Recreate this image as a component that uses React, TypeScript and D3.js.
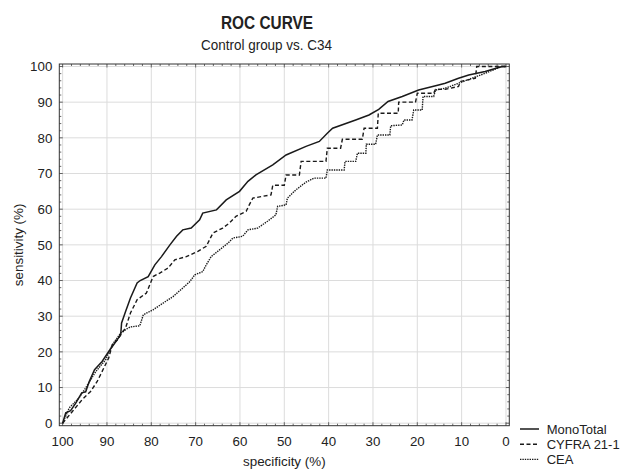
import React from "react";
import * as d3 from "d3";

// [specificity %, sensitivity %]
const monoTotal: [number, number][] = [
  [100, 0], [99.3, 2.9], [98.2, 3.5], [97.0, 5.7], [95.7, 8.5], [94.8, 8.8], [94.0, 11.7], [92.8, 15.0],
  [91.1, 17.3], [89.6, 20.1], [87.7, 23.4], [86.9, 24.8], [86.7, 28.1], [85.8, 31.3], [84.7, 35.1],
  [83.2, 39.3], [82.5, 40.0], [80.7, 41.1], [79.2, 44.4], [77.7, 46.7], [75.8, 50.0], [74.3, 52.4],
  [72.9, 54.2], [71.0, 54.7], [69.1, 57.0], [68.4, 58.9], [65.3, 59.8], [63.1, 62.6], [60.1, 65.0],
  [58.2, 67.8], [56.4, 69.6], [52.6, 72.4], [49.6, 75.2], [45.1, 77.6], [42.1, 79.0], [40.3, 81.3],
  [39.1, 82.7], [33.9, 85.0], [30.9, 86.4], [28.7, 88.0], [26.6, 90.2], [23.4, 91.6], [19.7, 93.4],
  [15.2, 94.8], [13.7, 95.3], [10.7, 96.7], [8.4, 97.6], [4.7, 98.6], [0.9, 100], [0, 100],
];

const cyfra: [number, number][] = [
  [100, 0], [97.8, 3.3], [95.6, 6.6], [93.7, 8.9], [92.2, 11.7], [90.7, 15.5], [89.6, 18.3], [88.8, 22.0],
  [87.5, 23.5], [86.9, 24.8], [85.8, 26.7], [84.7, 30.9], [83.2, 34.6], [81.1, 36.5], [79.6, 41.1],
  [78.1, 42.1], [76.2, 43.5], [74.7, 45.8], [72.1, 46.7], [69.5, 48.2], [67.6, 49.6], [66.1, 53.3],
  [63.9, 54.7], [62.4, 56.1], [60.9, 58.0], [58.6, 59.4], [57.9, 61.2], [57.1, 63.1], [54.9, 63.6],
  [53.0, 64.0], [52.6, 66.7], [50.0, 66.7], [49.6, 69.6], [46.6, 69.6], [46.2, 73.4], [40.6, 73.4],
  [40.3, 77.1], [37.3, 77.1], [36.9, 79.6], [32.4, 79.6], [32.0, 82.7], [29.0, 82.7], [28.8, 86.9],
  [24.3, 86.9], [24.2, 90.0], [20.4, 90.0], [20.0, 92.5], [16.3, 92.5], [15.9, 93.6], [13.7, 93.6],
  [10.7, 94.4], [10.3, 95.8], [6.9, 96.7], [6.6, 100], [0, 100],
];

const cea: [number, number][] = [
  [100, 0], [98.5, 4.3], [96.3, 7.1], [94.8, 9.9], [92.5, 14.5], [90.3, 17.8], [88.8, 22.0], [86.9, 25.3],
  [85.6, 26.4], [84.7, 27.0], [82.6, 27.3], [81.8, 30.4], [79.6, 31.8], [77.3, 33.7], [75.1, 35.5],
  [72.9, 37.9], [71.3, 39.7], [70.2, 41.6], [68.4, 42.5], [67.6, 44.4], [66.5, 46.7], [64.6, 48.6],
  [62.7, 50.5], [61.6, 51.9], [59.4, 52.4], [58.2, 54.2], [56.0, 54.7], [53.8, 56.6], [51.9, 58.4],
  [51.5, 60.8], [49.6, 61.2], [49.3, 63.1], [47.4, 65.4], [45.1, 67.6], [43.3, 68.7], [40.6, 68.7],
  [40.3, 71.0], [36.5, 71.0], [36.3, 73.4], [33.9, 73.4], [33.5, 75.7], [31.6, 75.7], [31.5, 78.2],
  [29.4, 78.2], [29.0, 80.8], [26.2, 80.8], [26.0, 83.4], [23.4, 83.6], [23.0, 85.0], [21.2, 85.0],
  [20.8, 87.8], [18.9, 87.8], [18.7, 91.6], [16.3, 91.6], [15.9, 93.4], [13.7, 93.9], [10.7, 95.3],
  [7.7, 96.7], [4.7, 98.1], [1.0, 100], [0, 100],
];

const seriesNames = ["MonoTotal", "CYFRA 21-1", "CEA"];
const majorTicks = [0, 10, 20, 30, 40, 50, 60, 70, 80, 90, 100];
const title = "ROC CURVE";
const subtitle = "Control group vs. C34";
const xLabel = "specificity (%)";
const yLabel = "sensitivity (%)";

const FONT = "'Liberation Sans', Arial, Helvetica, sans-serif";
const INK = "#222";

export default function App() {
  const left = 59.3, right = 509.3, top = 64, bottom = 425.7;
  const x = d3.scaleLinear().domain([100.75, -0.75]).range([left, right]);
  const y = d3.scaleLinear().domain([-0.7, 100.7]).range([bottom, top]);
  const line = d3.line<[number, number]>().x((d) => x(d[0])).y((d) => y(d[1]));
  const minor = d3.range(0, 101, 2);

  const series = [
    { name: seriesNames[0], data: monoTotal, dash: undefined, w: 1.5 },
    { name: seriesNames[1], data: cyfra, dash: "4,2.5", w: 1.4 },
    { name: seriesNames[2], data: cea, dash: "1.4,1", w: 1.4 },
  ];

  return (
    <svg width={620} height={469} style={{ position: "absolute", left: 0, top: 0, background: "#fff" }} fontFamily={FONT}>
      <rect x={0} y={0} width={620} height={469} fill="#fff" />
      <text x={267} y={29.3} textAnchor="middle" fontSize={17.5} fontWeight="bold" fill={INK} textLength={92} lengthAdjust="spacingAndGlyphs">{title}</text>
      <text x={266.5} y={49.5} textAnchor="middle" fontSize={14.3} fill={INK} textLength={131} lengthAdjust="spacingAndGlyphs">{subtitle}</text>

      {/* grid */}
      {majorTicks.map((t) => (
        <g key={"g" + t}>
          <line x1={x(t)} x2={x(t)} y1={top} y2={bottom} stroke="#dcdcdc" strokeWidth={1} />
          <line x1={left} x2={right} y1={y(t)} y2={y(t)} stroke="#dcdcdc" strokeWidth={1} />
        </g>
      ))}

      {/* ticks (inside, all four sides) */}
      {minor.map((t) => {
        const len = t % 10 === 0 ? 3.5 : 2;
        return (
          <g key={"t" + t} stroke="#444" strokeWidth={0.8}>
            <line x1={x(t)} x2={x(t)} y1={bottom} y2={bottom - len} />
            <line x1={x(t)} x2={x(t)} y1={top} y2={top + len} />
            <line x1={left} x2={left + len} y1={y(t)} y2={y(t)} />
            <line x1={right} x2={right - len} y1={y(t)} y2={y(t)} />
          </g>
        );
      })}

      <rect x={left} y={top} width={right - left} height={bottom - top} fill="none" stroke="#333" strokeWidth={1} />

      {/* tick labels */}
      {majorTicks.map((t) => (
        <g key={"l" + t} fontSize={13.3} fill={INK}>
          <text x={x(t)} y={446} textAnchor="middle">{t}</text>
          <text x={52.3} y={y(t) + 4.7} textAnchor="end">{t}</text>
        </g>
      ))}

      <text x={(left + right) / 2} y={466} textAnchor="middle" fontSize={13.4} fill={INK}>{xLabel}</text>
      <text transform={`translate(22.5, ${(top + bottom) / 2}) rotate(-90)`} textAnchor="middle" fontSize={13.4} fill={INK}>{yLabel}</text>

      {/* curves */}
      {series.map((s) => (
        <path key={s.name} d={line(s.data) || ""} fill="none" stroke="#1a1a1a" strokeWidth={s.w} strokeDasharray={s.dash} strokeLinejoin="miter" />
      ))}

      {/* legend */}
      {series.map((s, i) => (
        <g key={"lg" + s.name}>
          <line x1={520} x2={539} y1={429 + i * 15.2} y2={429 + i * 15.2} stroke="#1a1a1a" strokeWidth={s.w} strokeDasharray={s.dash} />
          <text x={546.7} y={433.6 + i * 15.2} fontSize={13} fill={INK}>{s.name}</text>
        </g>
      ))}
    </svg>
  );
}
